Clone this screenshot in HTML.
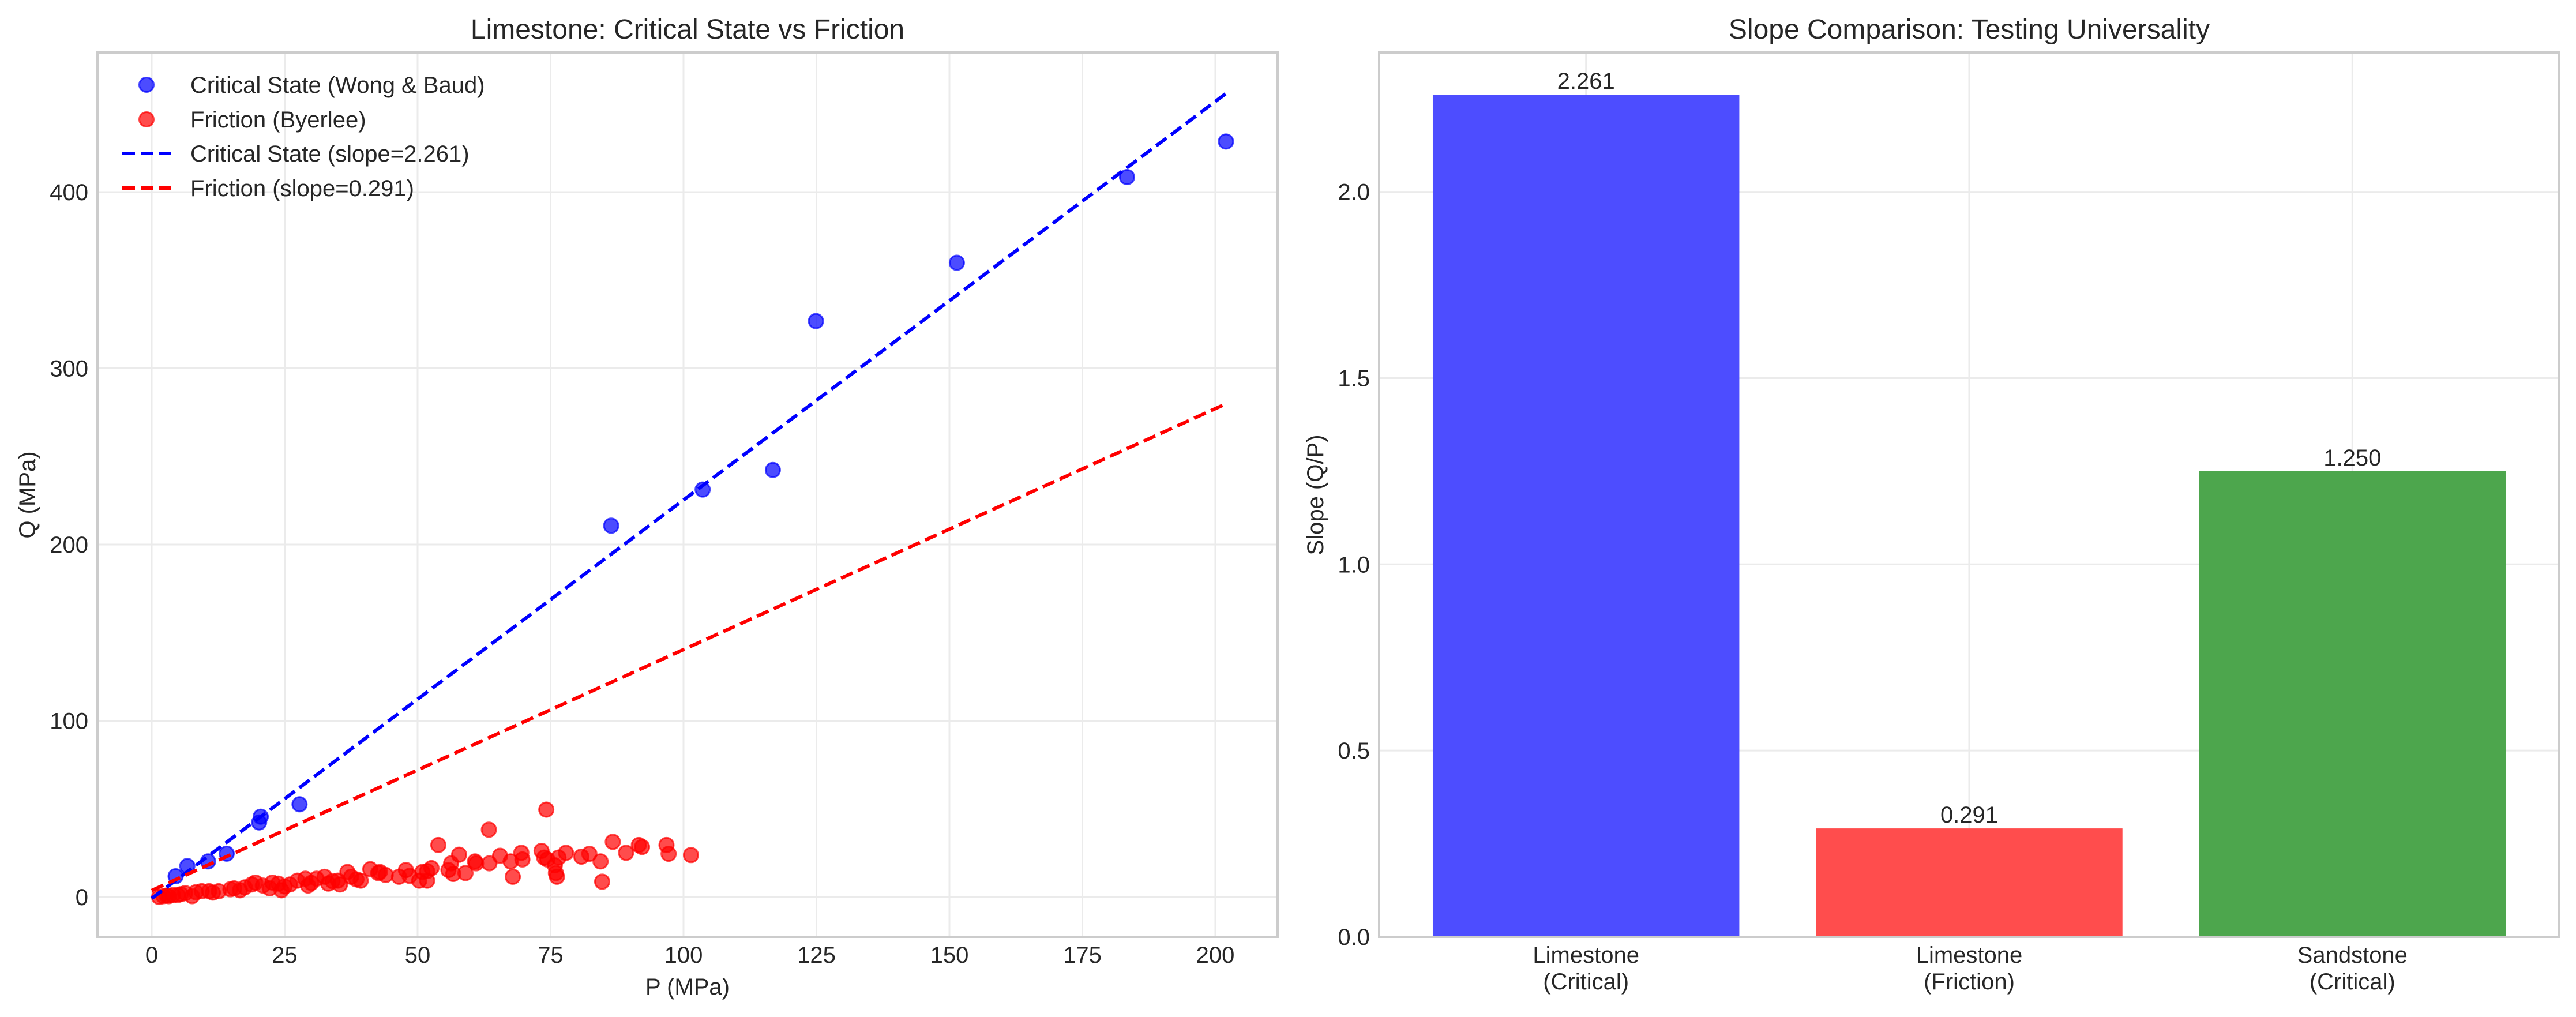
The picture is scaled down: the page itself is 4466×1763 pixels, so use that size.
<!DOCTYPE html>
<html><head><meta charset="utf-8"><style>
html,body{margin:0;padding:0;background:#fff;}
svg{display:block;font-family:"Liberation Sans",Arial,sans-serif;}
</style></head><body>
<svg id="fig" width="4466" height="1763" viewBox="0 0 4466 1763" xmlns="http://www.w3.org/2000/svg"></svg>
<script>
// ---- Left chart data ----
const critP = [4.5,6.7,10.6,14.1,20.2,20.5,27.8,86.4,103.6,116.8,124.9,151.4,183.4,202.0];
const critQ = [11.8,17.6,20.2,24.6,42.3,45.6,52.6,210.7,231.2,242.3,326.8,359.9,408.5,428.7];
const fricP = [1.4,2.2,3.2,4.0,4.9,6.3,7.6,8.3,9.4,10.8,12.6,14.8,15.5,16.6,18.8,19.5,20.9,22.2,22.7,23.8,24.4,26.0,27.4,28.9,29.4,31.0,32.5,33.2,35.0,35.4,36.8,37.5,39.3,41.1,42.6,42.9,46.5,47.8,50.3,50.9,51.8,51.8,52.6,53.9,55.8,56.3,56.7,57.8,59.0,60.8,61.0,63.5,63.4,65.5,67.5,67.9,69.5,69.7,73.3,73.8,74.4,74.2,75.8,76.0,76.2,76.5,77.9,80.8,82.3,84.4,84.7,86.7,89.2,91.6,92.2,96.8,97.2,101.4,2.8,5.5,11.5,17.5,25.0,30.0,34.0,38.5,44.0,48.5];
const fricQ = [0,0.5,0.5,1.1,1.1,2.2,0.5,2.7,3.3,3.3,3.3,4.4,4.9,3.8,7.1,8.2,6.5,4.9,8.2,7.6,3.8,7.1,9.3,10.4,6.5,10.4,11.5,7.6,9.3,7.1,14.2,11.5,9.3,15.8,13.6,14.2,11.5,15.3,9.3,14.2,14.7,9.3,16.4,29.5,15.3,19.1,13.1,24.0,13.6,20.2,19.1,19.1,38.2,23.4,20.2,11.5,25.1,21.3,26.2,22.4,21.3,49.6,18.0,13.6,11.5,22.4,25.1,22.9,24.5,20.2,8.7,31.3,25.1,29.5,28.4,29.5,24.5,23.8,0.8,1.6,2.5,5.5,6.0,8.0,9.0,10.0,12.5,12.0];
const critFit = [-0.8, 2.261];   // intercept, slope of drawn line
const fricFit = [3.7, 1.367];
const fitX = [0, 202];
const xTicks = [0,25,50,75,100,125,150,175,200];
const yTicks = [0,100,200,300,400];
const legendLabels = ["Critical State (Wong & Baud)","Friction (Byerlee)","Critical State (slope=2.261)","Friction (slope=0.291)"];
// ---- Right chart data ----
const barCats = [["Limestone","(Critical)"],["Limestone","(Friction)"],["Sandstone","(Critical)"]];
const barVals = [2.261, 0.291, 1.250];
const barLabels = ["2.261","0.291","1.250"];
const barColors = ["#4d4dff","#ff4d4d","#4da64d"];
const barYTicks = [0.0,0.5,1.0,1.5,2.0];
const barYTickLabels = ["0.0","0.5","1.0","1.5","2.0"];

const NS="http://www.w3.org/2000/svg";
const svg=document.getElementById('fig');
function mk(tag,attrs,parent){const e=document.createElementNS(NS,tag);for(const k in attrs)e.setAttribute(k,attrs[k]);(parent||svg).appendChild(e);return e;}
function txt(s,attrs,parent){const e=mk('text',Object.assign({fill:'#262626'},attrs),parent);e.textContent=s;return e;}

// ===== Left axes =====
const L={x0:169,x1:2215,y0:91,y1:1624};
const lx=v=>263+v*9.22;
const ly=v=>1555-v*3.055;
const gL=mk('g',{});


xTicks.forEach(t=>{
  const l=mk('line',{x1:lx(t),x2:lx(t),y1:L.y0,y2:L.y1,stroke:'#ebebeb','stroke-width':3},gL);
  
  const s=txt(String(t),{x:lx(t),y:1669,'font-size':40,'text-anchor':'middle'},gL);
  
});
yTicks.forEach(t=>{
  const l=mk('line',{x1:L.x0,x2:L.x1,y1:ly(t),y2:ly(t),stroke:'#ebebeb','stroke-width':3},gL);
  
  const s=txt(String(t),{x:153,y:ly(t)+14,'font-size':40,'text-anchor':'end'},gL);
  
});
// scatter
fricP.forEach((p,i)=>{
  const c=mk('circle',{cx:lx(p),cy:ly(fricQ[i]),r:12.5,fill:'#ff0000','fill-opacity':0.7,stroke:'#ff0000','stroke-opacity':0.7,'stroke-width':3},gL);
  
});
critP.forEach((p,i)=>{
  const c=mk('circle',{cx:lx(p),cy:ly(critQ[i]),r:12.5,fill:'#0000ff','fill-opacity':0.7,stroke:'#0000ff','stroke-opacity':0.7,'stroke-width':3},gL);
  
});
// fits
const f1=mk('line',{x1:lx(fitX[0]),y1:ly(critFit[0]+critFit[1]*fitX[0]),x2:lx(fitX[1]),y2:ly(critFit[0]+critFit[1]*fitX[1]),stroke:'#0000ff','stroke-width':6,'stroke-dasharray':'22,10'},gL);

const f2=mk('line',{x1:lx(fitX[0]),y1:ly(fricFit[0]+fricFit[1]*fitX[0]),x2:lx(fitX[1]),y2:ly(fricFit[0]+fricFit[1]*fitX[1]),stroke:'#ff0000','stroke-width':6,'stroke-dasharray':'22,10'},gL);

const frL=mk('rect',{x:L.x0,y:L.y0,width:L.x1-L.x0,height:L.y1-L.y0,fill:'none',stroke:'#cccccc','stroke-width':4},gL);

const tL=txt('Limestone: Critical State vs Friction',{x:1192,y:67,'font-size':48,'text-anchor':'middle'},gL);

const xl=txt('P (MPa)',{x:1192,y:1724,'font-size':40,'text-anchor':'middle'},gL);

const yl=txt('Q (MPa)',{x:0,y:0,'font-size':40,'text-anchor':'middle',transform:'translate(61,858) rotate(-90)'},gL);

// legend
const legY=[147,207,266,326];
legendLabels.forEach((lab,i)=>{
  const g=mk('g',{},gL);
  
  const col=(i%2===0)?'#0000ff':'#ff0000';
  if(i<2){mk('circle',{cx:254,cy:legY[i],r:12.5,fill:col,'fill-opacity':0.7,stroke:col,'stroke-opacity':0.7,'stroke-width':3},g);}
  else{mk('line',{x1:212,x2:296,y1:legY[i],y2:legY[i],stroke:col,'stroke-width':6,'stroke-dasharray':'22,10'},g);}
  txt(lab,{x:330,y:legY[i]+14,'font-size':40},g);
});

// ===== Right axes =====
const R={x0:2391,x1:4437,y0:91,y1:1624};
const bx=i=>2749.7+i*664.3;
const by=v=>1624-v*645.7;
const bw=0.8*664.3;
const gR=mk('g',{});


barYTicks.forEach((t,i)=>{
  const l=mk('line',{x1:R.x0,x2:R.x1,y1:by(t),y2:by(t),stroke:'#ebebeb','stroke-width':3},gR);
  
  const s=txt(barYTickLabels[i],{x:2375,y:by(t)+14,'font-size':40,'text-anchor':'end'},gR);
  
});
barCats.forEach((c,i)=>{
  const l=mk('line',{x1:bx(i),x2:bx(i),y1:R.y0,y2:R.y1,stroke:'#ebebeb','stroke-width':3},gR);
  
});
barVals.forEach((v,i)=>{
  const r=mk('rect',{x:bx(i)-bw/2,y:by(v),width:bw,height:by(0)-by(v),fill:barColors[i]},gR);
  
  const s=txt(barLabels[i],{x:bx(i),y:by(v)-10,'font-size':40,'text-anchor':'middle'},gR);
  
  const t1=txt(barCats[i][0],{x:bx(i),y:1669,'font-size':40,'text-anchor':'middle'},gR);
  
  const t2=txt(barCats[i][1],{x:bx(i),y:1715,'font-size':40,'text-anchor':'middle'},gR);
  
});
const frR=mk('rect',{x:R.x0,y:R.y0,width:R.x1-R.x0,height:R.y1-R.y0,fill:'none',stroke:'#cccccc','stroke-width':4},gR);

const tR=txt('Slope Comparison: Testing Universality',{x:3414,y:67,'font-size':48,'text-anchor':'middle'},gR);

const ylR=txt('Slope (Q/P)',{x:0,y:0,'font-size':40,'text-anchor':'middle',transform:'translate(2294,858) rotate(-90)'},gR);

</script>
</body></html>
